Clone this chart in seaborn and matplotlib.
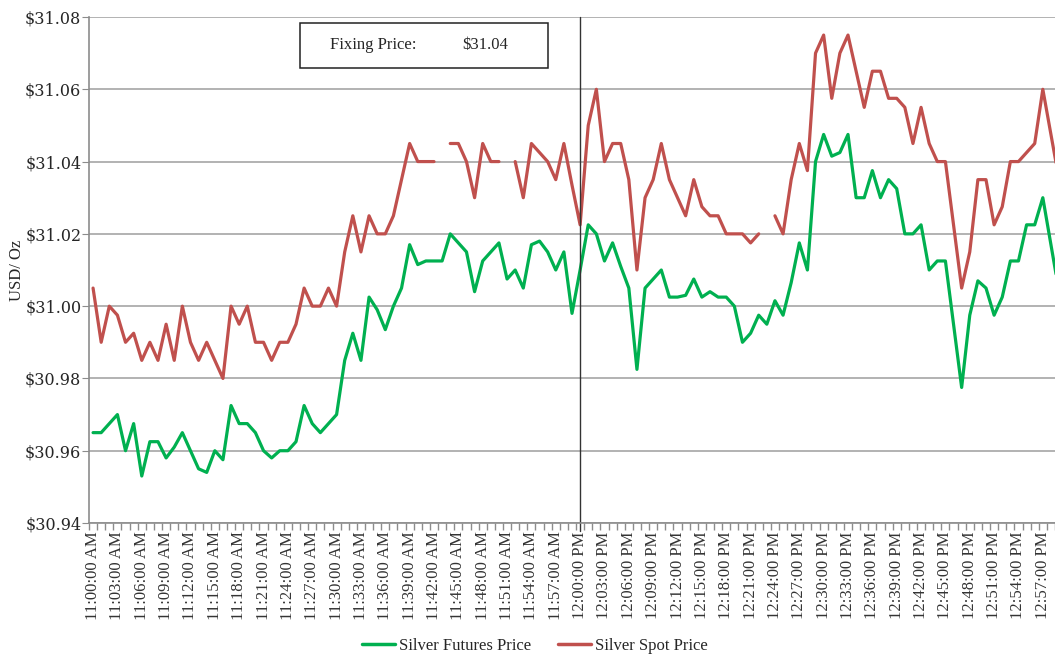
import numpy as np
import pandas as pd
import matplotlib.pyplot as plt
from matplotlib.patches import Rectangle
import seaborn as sns

# ----------------- data (one value per minute) -----------------
times = pd.date_range("2024-01-01 11:00", periods=120, freq="min")
time_labels = [t.strftime("%I:%M:%S %p") for t in times]

futures_price = [
    30.965, 30.965, 30.9675, 30.970, 30.960, 30.9675, 30.953, 30.9625, 30.9625, 30.958,
    30.961, 30.965, 30.960, 30.955, 30.954, 30.960, 30.9575, 30.9725, 30.9675, 30.9675,
    30.965, 30.960, 30.958, 30.960, 30.960, 30.9625, 30.9725, 30.9675, 30.965, 30.9675,
    30.970, 30.985, 30.9925, 30.985, 31.0025, 30.999, 30.9935, 31.000, 31.005, 31.017,
    31.0115, 31.0125, 31.0125, 31.0125, 31.020, 31.0175, 31.015, 31.004, 31.0125, 31.015,
    31.0175, 31.0075, 31.010, 31.005, 31.017, 31.018, 31.015, 31.010, 31.015, 30.998,
    31.010, 31.0225, 31.020, 31.0125, 31.0175, 31.011, 31.005, 30.9825, 31.005, 31.0075,
    31.010, 31.0025, 31.0025, 31.003, 31.0075, 31.0025, 31.004, 31.0025, 31.0025, 31.000,
    30.990, 30.9925, 30.9975, 30.995, 31.0015, 30.9975, 31.0065, 31.0175, 31.010, 31.040,
    31.0475, 31.0415, 31.0425, 31.0475, 31.030, 31.030, 31.0375, 31.030, 31.035, 31.0325,
    31.020, 31.020, 31.0225, 31.010, 31.0125, 31.0125, 30.995, 30.9775, 30.9975, 31.007,
    31.005, 30.9975, 31.0025, 31.0125, 31.0125, 31.0225, 31.0225, 31.030, 31.017, 31.004,
]

spot_price = [
    31.005, 30.990, 31.000, 30.9975, 30.990, 30.9925, 30.985, 30.990, 30.985, 30.995,
    30.985, 31.000, 30.990, 30.985, 30.990, 30.985, 30.980, 31.000, 30.995, 31.000,
    30.990, 30.990, 30.985, 30.990, 30.990, 30.995, 31.005, 31.000, 31.000, 31.005,
    31.000, 31.015, 31.025, 31.015, 31.025, 31.020, 31.020, 31.025, 31.035, 31.045,
    31.040, 31.040, 31.040, np.nan, 31.045, 31.045, 31.040, 31.030, 31.045, 31.040,
    31.040, np.nan, 31.040, 31.030, 31.045, 31.0425, 31.040, 31.035, 31.045, 31.0335,
    31.0225, 31.050, 31.060, 31.040, 31.045, 31.045, 31.035, 31.010, 31.030, 31.035,
    31.045, 31.035, 31.030, 31.025, 31.035, 31.0275, 31.025, 31.025, 31.020, 31.020,
    31.020, 31.0175, 31.020, np.nan, 31.025, 31.020, 31.035, 31.045, 31.0375, 31.070,
    31.075, 31.0575, 31.070, 31.075, 31.065, 31.055, 31.065, 31.065, 31.0575, 31.0575,
    31.055, 31.045, 31.055, 31.045, 31.040, 31.040, 31.0225, 31.005, 31.015, 31.035,
    31.035, 31.0225, 31.0275, 31.040, 31.040, 31.0425, 31.045, 31.060, 31.0475, 31.035,
]

fixing_price = 31.04
series_names = ["Silver Futures Price", "Silver Spot Price"]
series_colors = ["#00B050", "#C0504D"]

# ----------------- long table, gaps in the spot series split it into segments -----------------
frames = []
for name, values in zip(series_names, [futures_price, spot_price]):
    s = pd.Series(values, dtype=float)
    seg = s.isna().cumsum()
    frames.append(pd.DataFrame({"minute": np.arange(len(s)), "price": s,
                                "series": name, "segment": seg}))
df = pd.concat(frames, ignore_index=True).dropna(subset=["price"])

# ----------------- plot -----------------
sns.set_style("white")
plt.rcParams["font.family"] = ["Liberation Serif", "DejaVu Serif"]

fig = plt.figure(figsize=(10.55, 6.57), dpi=100)
ax = fig.add_axes([89 / 1055, (657 - 523) / 657, (1055 - 89) / 1055, (523 - 17) / 657])

sns.lineplot(data=df, x="minute", y="price", hue="series", units="segment",
             estimator=None, palette=dict(zip(series_names, series_colors)),
             hue_order=series_names, linewidth=2.3, ax=ax, legend=False)

ax.set_xlim(-0.5, 118.5)
ax.set_ylim(30.94, 31.08)
yticks = np.arange(30.94, 31.081, 0.02)
ax.set_yticks(yticks)
ax.set_yticklabels([f"${v:.2f}" for v in yticks], fontsize=11.5, family="DejaVu Serif")
ax.yaxis.grid(True, color="#acacac", linewidth=1.3)
ax.xaxis.grid(False)

ax.set_xticks(np.arange(0, 120, 3))
ax.set_xticklabels(time_labels[::3], rotation=90, fontsize=12)
ax.set_xticks(np.arange(-0.5, 119, 1), minor=True)
ax.tick_params(axis="x", which="major", length=0, pad=6, colors="#333333")
ax.tick_params(axis="x", which="minor", length=5, color="#8c8c8c", width=1,
               bottom=True, direction="out")
ax.tick_params(axis="y", length=5, color="#8c8c8c", pad=0.5, colors="#262626",
               direction="out", left=True)

for side in ["top", "right"]:
    ax.spines[side].set_visible(False)
for side in ["left", "bottom"]:
    ax.spines[side].set_color("#8c8c8c")
    ax.spines[side].set_linewidth(1.2)

ax.set_xlabel("")
ax.set_ylabel("USD/ Oz", fontsize=12)
ax.yaxis.set_label_coords(-0.066, 0.5)

# 12:00 PM marker
ax.axvline(60, ymin=-0.015, ymax=1, color="#333333", linewidth=1, clip_on=False)

# fixing price box
ax.add_patch(Rectangle((0.2184, 0.899), 0.2568, 0.089, transform=ax.transAxes,
                       fill=True, facecolor="white", edgecolor="#222222",
                       linewidth=1.1, zorder=5))
ax.text(0.2495, 0.9437, "Fixing Price:", transform=ax.transAxes, fontsize=12,
        va="center", ha="left", zorder=6)
ax.text(0.386, 0.9437, f"${fixing_price:.2f}", transform=ax.transAxes, fontsize=12,
        va="center", ha="left", zorder=6)

handles = [plt.Line2D([], [], color=c, linewidth=2.5) for c in series_colors]
fig.legend(handles, series_names, loc="center", bbox_to_anchor=(0.507, 0.017),
           ncol=2, frameon=False, fontsize=12, handlelength=2.0,
           handletextpad=0.25, columnspacing=1.6)

fig.savefig("out.png", dpi=100)
